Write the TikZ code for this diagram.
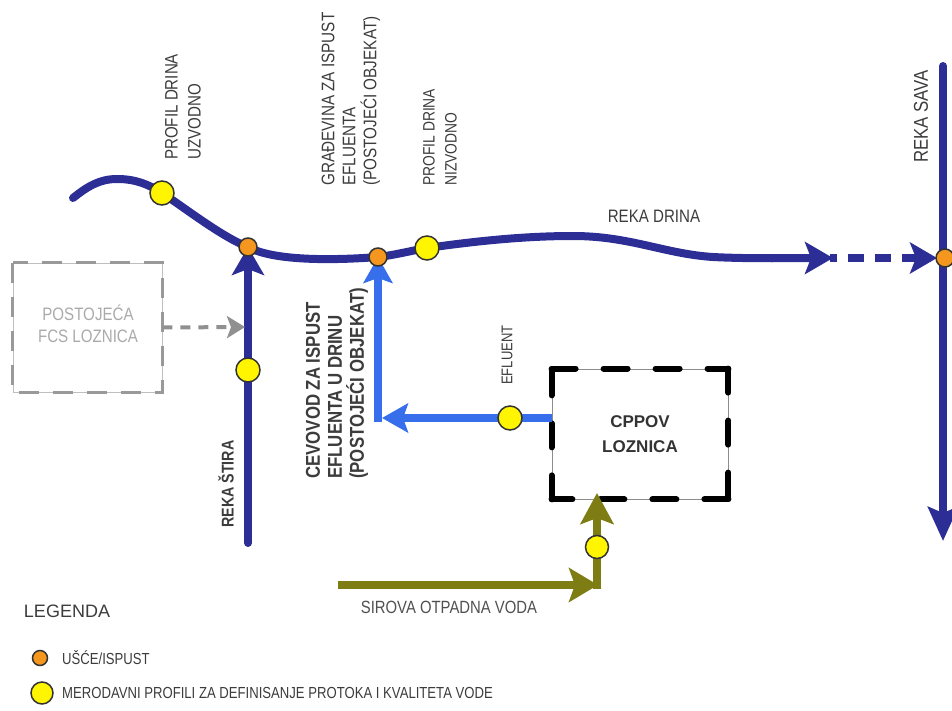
\documentclass[tikz,border=0pt]{standalone}
\usepackage{fontspec}
\setmainfont{Liberation Sans}
\newfontfamily\labfont[FakeStretch=0.84]{Liberation Sans}
\newfontfamily\legfont[FakeStretch=0.82]{Liberation Sans}
\usetikzlibrary{arrows.meta,calc}
\definecolor{drina}{RGB}{45,45,150}
\definecolor{efflc}{RGB}{55,110,235}
\definecolor{olivec}{RGB}{125,125,20}
\definecolor{ycirc}{RGB}{255,245,0}
\definecolor{ocirc}{RGB}{245,150,30}
\definecolor{labgray}{RGB}{60,60,60}
\definecolor{fcsgray}{RGB}{170,170,170}
\newcommand{\fs}[2]{\fontsize{#1}{#2}\selectfont}
\begin{document}
\begin{tikzpicture}[x=1pt,y=-1pt,
  river/.style={draw=drina, line width=8pt, line cap=round},
  effline/.style={draw=efflc, line width=8pt},
  oliveline/.style={draw=olivec, line width=8pt},
  ycircle/.style={circle, fill=ycirc, draw=black!80, line width=1.5pt, minimum size=24pt, inner sep=0pt},
  ocircle/.style={circle, fill=ocirc, draw=black!80, line width=1.5pt, minimum size=18pt, inner sep=0pt},
  vlabel/.style={rotate=90, anchor=west, align=left, inner sep=0pt, text=labgray},
  bigtip/.style={-{Stealth[length=28pt,width=32pt,inset=6pt]}},
  midtip/.style={-{Stealth[length=26pt,width=29pt,inset=5pt]}},
  boxdash/.style={black, line width=6pt, line cap=round, dash pattern=on 24pt off 28pt},
]
\useasboundingbox (0,0) rectangle (952,711);

% ---------- coordinates ----------
\coordinate (drS) at (73,198);
\coordinate (drPeak) at (117,179);
\coordinate (cY1) at (162,193);
\coordinate (cO1) at (248,247);
\coordinate (cO2) at (378,257);
\coordinate (cY2) at (427,248);
\coordinate (drM) at (573,236);
\coordinate (drN) at (713,257);
\coordinate (drEnd) at (833,258);
\coordinate (dashS) at (830,258);
\coordinate (cO3) at (945,258);
\coordinate (savaTop) at (943,66);
\coordinate (savaEnd) at (943,541);
\coordinate (stiraS) at (248,543);
\coordinate (cY3) at (248,370);
\coordinate (effIn) at (552,418);
\coordinate (effTip) at (382,418);
\coordinate (effCorner) at (378,422);
\coordinate (cY4) at (510,418);
\coordinate (olStart) at (338,585);
\coordinate (olTip) at (598,585);
\coordinate (olCorner) at (597,589);
\coordinate (olTop) at (597,493);
\coordinate (cY5) at (597,547);
\coordinate (fcsTip) at (245,327);

% ---------- boxes ----------
\node[minimum width=149pt, minimum height=129pt, inner sep=0pt, draw=black!25, line width=0.8pt] (FCS) at (87.5,327.5) {};
\draw[draw=fcsgray!90!black, line width=2.5pt, dash pattern=on 20pt off 14pt] (FCS.north west) rectangle (FCS.south east);
\node[align=center, text=fcsgray, font=\labfont\fs{18}{22}] (FCSt) at (88,324) {POSTOJEĆA\\FCS LOZNICA};

\node[minimum width=176pt, minimum height=130pt, inner sep=0pt, draw=black!45, line width=0.8pt] (CPP) at (640,434) {};
\draw[boxdash] (CPP.north west) -- (CPP.north east);
\draw[boxdash] (CPP.north east) -- (CPP.south east);
\draw[boxdash] (CPP.south east) -- (CPP.south west);
\draw[boxdash] (CPP.south west) -- (CPP.north west);
\node[align=center, text=black!80, font=\bfseries\fs{17}{25}] (CPPt) at (640,434) {CPPOV\\LOZNICA};

% ---------- rivers ----------
\draw[river, bigtip] (drS) .. controls (88,186) and (100,179) .. (drPeak)
   .. controls (135,179) and (148,184) .. (cY1)
   .. controls (185,208) and (222,237) .. (cO1)
   .. controls (275,262) and (340,260) .. (cO2)
   .. controls (395,255) and (410,251) .. (cY2)
   .. controls (470,242) and (520,236) .. (drM)
   .. controls (630,236) and (665,254) .. (drN)
   .. controls (750,259) and (800,258) .. (drEnd);
\draw[draw=drina, line width=8pt, dash pattern=on 16pt off 11pt, {Stealth[length=27pt,width=31pt,inset=6pt]}-] (cO3) ++(-8,0) coordinate (o3w) (o3w) -- (dashS);
\draw[river, {Stealth[length=34pt,width=30pt,inset=6pt]}-] (savaEnd) -- (savaTop);
\draw[river, bigtip] (stiraS) -- (cO1);

% gray dashed connector
\draw[draw=fcsgray!85!black, line width=4pt, dash pattern=on 10pt off 8pt, -{Stealth[length=18pt,width=22pt,inset=4pt]}] (FCS.east) -- (fcsTip);

% effluent
\draw[effline, midtip] (effIn) -- (effTip);
\draw[effline, midtip] (effCorner) -- (cO2);

% raw waste water
\draw[oliveline, -{Stealth[length=29pt,width=34pt,inset=6pt]}] (olStart) -- (olTip);
\draw[oliveline, -{Stealth[length=31pt,width=33pt,inset=6pt]}] (olCorner) -- (olTop);

% ---------- circles ----------
\node[ycircle] (Y1) at (cY1) {};
\node[ocircle] (O1) at (cO1) {};
\node[ocircle] (O2) at (cO2) {};
\node[ycircle] (Y2) at (cY2) {};
\node[ocircle] (O3) at (cO3) {};
\node[ycircle] (Y3) at (cY3) {};
\node[ycircle] (Y4) at (cY4) {};
\node[ycircle, minimum size=23pt] (Y5) at (cY5) {};

% ---------- labels ----------
\node[vlabel, font=\labfont\fs{18}{23}] (Luzv) at (183,160) {PROFIL DRINA\\UZVODNO};
\node[vlabel, font=\labfont\fs{18.2}{21}] (Lgra) at (351,186) {GRAĐEVINA ZA ISPUST\\EFLUENTA\\(POSTOJEĆI OBJEKAT)};
\node[vlabel, font=\labfont\fs{16.5}{22}] (Lniz) at (440,186) {PROFIL DRINA\\NIZVODNO};
\node[vlabel, font=\labfont\bfseries\fs{20}{22}] (Lcev) at (337,479) {CEVOVOD ZA ISPUST\\EFLUENTA U DRINU\\(POSTOJEĆI OBJEKAT)};
\node[vlabel, font=\labfont\fs{15.5}{18}] (Lefl) at (507,385) {EFLUENT};
\node[vlabel, font=\labfont\fs{20}{22}] (Lsav) at (921,163) {REKA SAVA};
\node[vlabel, font=\labfont\bfseries\fs{17}{22}] (Lsti) at (226,528) {REKA ŠTIRA};
\node[text=labgray, font=\labfont\fs{18}{22}] (Ldri) at (654,216) {REKA DRINA};
\node[text=labgray!90, font=\labfont\fs{17.7}{22}] (Lsir) at (449,607) {SIROVA OTPADNA VODA};

% ---------- legend ----------
\node[text=labgray, font=\fs{18}{22}] (Lleg) at (67,611) {LEGENDA};
\node[ocircle, minimum size=15pt] (LO) at (40,658) {};
\node[ycircle, minimum size=22pt] (LY) at (42,693) {};
\node[anchor=west, inner sep=0pt, text=labgray, font=\legfont\fs{16}{20}] (LOt) at (62,658) {UŠĆE/ISPUST};
\node[anchor=west, inner sep=0pt, text=labgray, font=\legfont\fs{16}{20}] (LYt) at (62,693) {MERODAVNI PROFILI ZA DEFINISANJE PROTOKA I KVALITETA VODE};
\end{tikzpicture}
\end{document}
